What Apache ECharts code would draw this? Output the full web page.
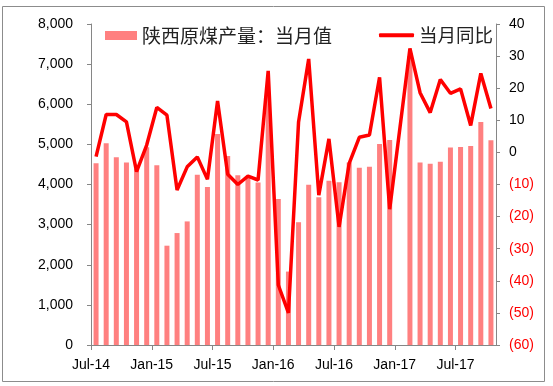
<!DOCTYPE html>
<html><head><meta charset="utf-8">
<script src="https://cdn.jsdelivr.net/npm/echarts@6/dist/echarts.min.js"></script>
<style>html,body{margin:0;padding:0;background:#fff}#c{width:553px;height:386px}</style>
</head><body><div id="c"></div>
<script>
var months = ['Jul-14','Aug-14','Sep-14','Oct-14','Nov-14','Dec-14','Jan-15','Feb-15','Mar-15','Apr-15','May-15','Jun-15',
  'Jul-15','Aug-15','Sep-15','Oct-15','Nov-15','Dec-15','Jan-16','Feb-16','Mar-16','Apr-16','May-16','Jun-16',
  'Jul-16','Aug-16','Sep-16','Oct-16','Nov-16','Dec-16','Jan-17','Feb-17','Mar-17','Apr-17','May-17','Jun-17',
  'Jul-17','Aug-17','Sep-17','Oct-17'];
var production = [4530,5030,4680,4550,4400,4930,4480,2475,2790,3080,4240,3940,
  5260,4710,4230,4210,4050,6200,3640,1830,3060,3995,3680,4095,
  4055,4550,4420,4445,5010,5110,null,7200,4550,4520,4570,4925,
  4935,4960,5560,5100];
var yoy = [-1.3,11.8,11.8,9.5,-6.0,2.3,14.0,11.6,-11.7,-4.5,-1.4,-8.4,
  16.0,-6.8,-10.0,-7.4,-8.6,25.4,-41.3,-50.0,9.5,29.1,-13.3,4.2,
  -23.2,-3.4,4.7,5.4,23.4,-17.7,null,32.4,18.6,12.4,22.7,18.4,
  19.8,8.4,24.6,13.7];
var barName = '陕西原煤产量：当月值';
var lineName = '当月同比';

var barData = production.map(function(v,i){ return [i+0.5, v]; });
var lineData = yoy.map(function(v,i){ return [i+0.5, v]; });

var chart = echarts.init(document.getElementById('c'), null, {renderer:'canvas'});
var axisCol = '#868686';
chart.setOption({
  animation:false,
  backgroundColor:'#fff',
  graphic:[{type:'rect', shape:{x:2.5,y:6.5,width:542,height:375}, style:{fill:'none', stroke:'#8c8c8c', lineWidth:1}, silent:true}],
  grid:{left:91, right:57, top:24, bottom:41},
  legend:[
    {data:[barName], left:100, top:21, icon:'rect', itemWidth:32, itemHeight:9, itemGap:5,
     textStyle:{fontFamily:'Noto Sans CJK SC', fontSize:19, color:'#222'}},
    {data:[lineName], left:374, top:21, icon:'roundRect', itemWidth:35, itemHeight:4, itemGap:5,
     textStyle:{fontFamily:'Noto Sans CJK SC', fontSize:18.5, color:'#222'}}
  ],
  xAxis:{type:'value', min:0, max:months.length, interval:6,
    axisLine:{show:true, lineStyle:{color:axisCol}},
    axisTick:{show:true, length:5, lineStyle:{color:axisCol}},
    splitLine:{show:false},
    axisLabel:{margin:13, showMaxLabel:false, color:'#000', fontFamily:'Liberation Sans', fontSize:14,
      formatter:function(v){ return months[v] || ''; }}
  },
  yAxis:[
    {type:'value', min:0, max:8000, interval:1000, position:'left',
     axisLine:{show:true, lineStyle:{color:axisCol}},
     axisTick:{show:true, length:4, lineStyle:{color:axisCol}},
     splitLine:{show:false},
     axisLabel:{margin:18, color:'#000', fontFamily:'Liberation Sans', fontSize:14,
       formatter:function(v){ return v.toLocaleString('en-US'); }}},
    {type:'value', min:-60, max:40, interval:10, position:'right',
     axisLine:{show:true, lineStyle:{color:axisCol}},
     axisTick:{show:true, length:4, lineStyle:{color:axisCol}},
     splitLine:{show:false},
     axisLabel:{margin:13, fontFamily:'Liberation Sans', fontSize:14,
       color:function(v){ return Number(v) < 0 ? '#FF0000' : '#000'; },
       formatter:function(v){ return v < 0 ? '(' + Math.abs(v) + ')' : String(v); }}}
  ],
  series:[
    {name:barName, type:'bar', yAxisIndex:0, data:barData, barWidth:5,
     itemStyle:{color:'#FF8080'}},
    {name:lineName, type:'line', yAxisIndex:1, data:lineData, connectNulls:true,
     symbol:'none', lineStyle:{color:'#FF0000', width:3.5}, itemStyle:{color:'#FF0000'}}
  ]
});
</script></body></html>
